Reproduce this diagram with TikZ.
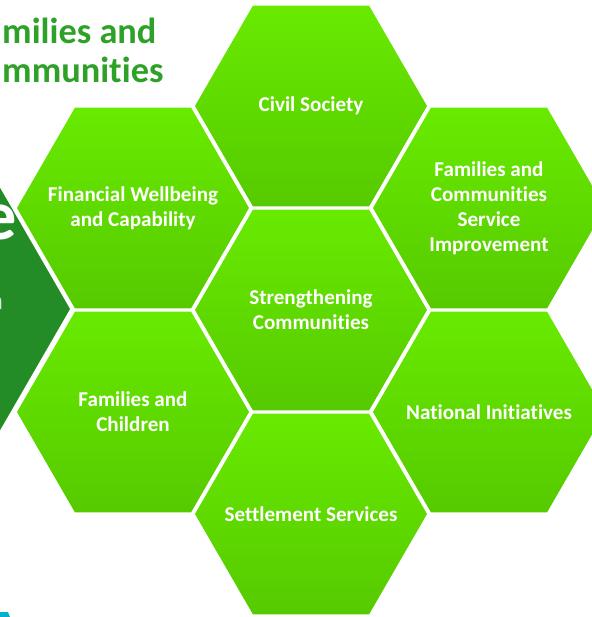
\documentclass[tikz,border=0pt]{standalone}
\usepackage{fontspec}
\setmainfont{Carlito}[Ligatures=NoCommon]
\usepackage{tikz}
\usepackage{xcolor}
\usetikzlibrary{shapes.geometric}

\definecolor{hextop}{RGB}{104,234,0}
\definecolor{hexbottom}{RGB}{86,202,0}
\definecolor{bannergreen}{RGB}{36,140,38}
\definecolor{titlegreen}{RGB}{46,162,40}
\definecolor{edgecyan}{RGB}{0,178,200}

\begin{document}
\begin{tikzpicture}[
    x=0.03cm, y=-0.03cm,
    hexa/.style={regular polygon, regular polygon sides=6, minimum size=6.96cm, inner sep=0pt,
        top color=hextop, bottom color=hexbottom, draw=none},
    hexlabel/.style={text=white, align=center, inner sep=0pt,
        font=\fontsize{18}{21.4}\selectfont\bfseries},
    bighex/.style={regular polygon, regular polygon sides=6, minimum size=15cm, inner sep=0pt, fill=bannergreen},
    heading/.style={anchor=north west, inner sep=0pt, align=left, text=titlegreen,
        font=\fontsize{31}{33.3}\selectfont\bfseries}
]

\useasboundingbox (0,0) rectangle (592,617);
\clip (0,0) rectangle (592,617);

% Banner on the left
\node[bighex] (banner) at (-180,309) {};
\node[anchor=east, inner sep=0pt, text=white, font=\fontsize{60}{60}\selectfont\bfseries] (bigletter) at (17,222) {e};
\node[anchor=east, inner sep=0pt, text=white!80!gray, font=\fontsize{22}{22}\selectfont\bfseries] (smallletter) at (3,303) {n};

% Heading
\node[heading] (heading) at (2,18) {milies and\\mmunities};

% Hexagons
\node[hexa] (civil) at (311,106) {};
\node[hexa] (financial) at (133,208) {};
\node[hexa] (improvement) at (489,208) {};
\node[hexa] (strengthening) at (311,310) {};
\node[hexa] (children) at (133,412) {};
\node[hexa] (national) at (489,412) {};
\node[hexa] (settlement) at (311,514) {};

% Labels
\node[hexlabel] (civiltext) at (civil) {Civil Society};
\node[hexlabel] (financialtext) at (financial) {Financial Wellbeing\\and Capability};
\node[hexlabel] (improvementtext) at (improvement) {Families and\\Communities\\Service\\Improvement};
\node[hexlabel] (strengtheningtext) at (strengthening) {Strengthening\\Communities};
\node[hexlabel] (childrentext) at (children) {Families and\\Children};
\node[hexlabel] (nationaltext) at (national) {National Initiatives};
\node[hexlabel] (settlementtext) at (settlement) {Settlement Services};

% Corner piece
\fill[edgecyan] (0,612) -- (8,612) -- (10,617) -- (0,617) -- cycle;

\end{tikzpicture}
\end{document}
